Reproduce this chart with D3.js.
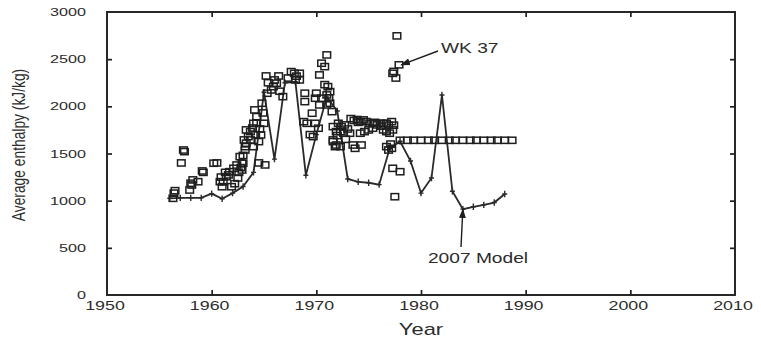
<!DOCTYPE html>
<html>
<head>
<meta charset="utf-8">
<script src="https://cdn.jsdelivr.net/npm/d3@7/dist/d3.min.js"></script>
<style>
  html, body { margin: 0; padding: 0; background: #fff; }
  svg { display: block; }
  text { font-family: "Liberation Sans", Arial, Helvetica, sans-serif; fill: #2c2c2c; }
</style>
</head>
<body>
<svg id="chart" width="761" height="344"></svg>
<script>
// Observed average enthalpy (kJ/kg), measured samples
const obsYears = [
  1956.3, 1956.4, 1956.5, 1957.1, 1957.3, 1957.4, 1957.9, 1958.0, 1958.1, 1958.2,
  1958.7, 1959.1, 1959.2, 1960.2, 1960.5, 1960.8, 1961.0, 1961.1, 1961.4, 1961.6,
  1961.7, 1961.9, 1962.1, 1962.2, 1962.4, 1962.6, 1962.7, 1962.9, 1962.9, 1963.0,
  1963.1, 1963.2, 1963.2, 1963.3, 1963.3, 1963.7, 1963.7, 1964.0, 1964.0, 1964.1,
  1964.3, 1964.3, 1964.5, 1964.5, 1964.7, 1964.8, 1965.0, 1965.1, 1965.2, 1965.3,
  1965.7, 1965.9, 1966.2, 1966.4, 1966.5, 1966.8, 1967.6, 1967.9, 1968.0, 1968.4,
  1968.4, 1968.8, 1968.9, 1968.9, 1969.1, 1969.4, 1969.6, 1969.7, 1969.9, 1969.9,
  1970.0, 1970.2, 1970.3, 1970.3, 1970.5, 1970.5, 1970.8, 1971.0, 1971.0, 1971.0,
  1971.1, 1971.3, 1971.3, 1971.5, 1971.6, 1971.6, 1971.6, 1971.8, 1971.9, 1971.9,
  1972.1, 1972.3, 1972.3, 1972.4, 1972.6, 1972.7, 1973.0, 1973.2, 1973.5, 1973.7,
  1973.9, 1974.2, 1974.2, 1974.5, 1974.6, 1974.8, 1975.0, 1975.1, 1975.4, 1975.4,
  1975.8, 1976.1, 1976.4, 1976.4, 1976.7, 1976.7, 1976.7, 1976.9, 1977.0, 1977.2,
  1977.2, 1977.3, 1977.3, 1977.5, 1978.0, 1960.9, 1961.3, 1962.5, 1962.8, 1963.0,
  1963.5, 1963.9, 1964.2, 1964.6, 1964.9, 1965.4, 1966.0, 1967.3, 1968.1, 1970.8,
  1971.2, 1972.0, 1972.8, 1973.3, 1973.6, 1974.0, 1974.3, 1975.6, 1976.2, 1976.9,
  1977.1, 1977.4
];
const obsValues = [
  1025, 1080, 1106, 1400, 1537, 1520, 1113, 1185, 1166, 1220,
  1201, 1315, 1300, 1397, 1400, 1201, 1148, 1200, 1254, 1273,
  1307, 1148, 1343, 1180, 1378, 1300, 1467, 1397, 1325, 1397,
  1644, 1573, 1537, 1609, 1750, 1644, 1732, 1820, 1573, 1962,
  1891, 1820, 1626, 1400, 1697, 2033, 1820, 1379, 2322, 2139,
  2174, 2209, 2245, 2322, 2160, 2103, 2368, 2350, 2280, 2350,
  2280, 1838, 2139, 2050, 1820, 1700, 1927, 1679, 1820, 2086,
  2139, 1768, 2333, 2015, 2457, 2086, 2421, 2545, 2121, 2015,
  2209, 2156, 2033, 1944, 1785, 1644, 1626, 1573, 1732, 1590,
  1820, 1732, 1573, 1785, 1715, 1803, 1760, 1715, 1590, 1555,
  1860, 1715, 1838, 1856, 1732, 1838, 1750, 1820, 1820, 1768,
  1803, 1820, 1820, 1750, 1820, 1732, 1573, 1537, 1715, 1838,
  1555, 1750, 1343, 1042, 1307, 1250, 1300, 1240, 1350, 1480,
  1680, 1770, 1700, 1760, 1930, 2250, 2280, 2300, 2320, 2230,
  2090, 1690, 1650, 1870, 1850, 1830, 1590, 1830, 1790, 1800,
  1600, 1800
];

// Well WK 37 samples
const wk37Years  = [1977.3, 1977.4, 1977.6, 1977.7, 1977.9];
const wk37Values = [2350, 2370, 2300, 2747, 2440];

// Constant enthalpy assumed after 1978
const flatYears = [
  1978.0, 1978.7, 1979.3, 1980.0, 1980.7, 1981.3, 1982.0, 1982.7, 1983.3,
  1984.0, 1984.7, 1985.3, 1986.0, 1986.7, 1987.3, 1988.0, 1988.7
];
const flatValues = [
  1640, 1640, 1640, 1640, 1640, 1640, 1640, 1640, 1640,
  1640, 1640, 1640, 1640, 1640, 1640, 1640, 1640
];

// 2007 model, annual
const modelYears = [
  1956, 1957, 1958, 1959, 1960, 1961, 1962, 1963, 1964, 1965, 1966,
  1967, 1968, 1969, 1970, 1971, 1972, 1973, 1974, 1975, 1976, 1977,
  1978, 1979, 1980, 1981, 1982, 1983, 1984, 1985, 1986, 1987, 1988
];
const modelValues = [
  1025, 1030, 1030, 1030, 1075, 1020, 1080, 1150, 1300, 2150, 1440,
  2250, 2260, 1270, 1700, 2100, 1950, 1230, 1200, 1190, 1170, 1550,
  1630, 1420, 1080, 1240, 2120, 1100, 910, 935, 955, 980, 1070
];

const xTicks = [1950, 1960, 1970, 1980, 1990, 2000, 2010];
const yTicks = [0, 500, 1000, 1500, 2000, 2500, 3000];

const svg = d3.select("#chart");
const SX = 1.37; // horizontal stretch of lettering
const plotL = 107, plotR = 735, plotT = 12, plotB = 295;

const x = d3.scaleLinear().domain([1950, 2010]).range([plotL, plotR]);
const y = d3.scaleLinear().domain([0, 3000]).range([plotB, plotT]);

const ink = "#1e1e1e";

// inward ticks on all four sides
svg.append("g").attr("transform", `translate(0,${plotB})`)
  .call(d3.axisBottom(x).tickValues(xTicks.slice(1, -1)).tickSize(-5).tickFormat(""));
svg.append("g").attr("transform", `translate(0,${plotT})`)
  .call(d3.axisTop(x).tickValues(xTicks.slice(1, -1)).tickSize(-5).tickFormat(""));
svg.append("g").attr("transform", `translate(${plotL},0)`)
  .call(d3.axisLeft(y).tickValues(yTicks.slice(1, -1)).tickSize(-5).tickFormat(""));
svg.append("g").attr("transform", `translate(${plotR},0)`)
  .call(d3.axisRight(y).tickValues(yTicks.slice(1, -1)).tickSize(-5).tickFormat(""));
svg.selectAll(".domain").remove();
svg.selectAll(".tick line").attr("stroke", ink).attr("stroke-width", 1.7);

svg.append("rect")
  .attr("x", plotL).attr("y", plotT)
  .attr("width", plotR - plotL).attr("height", plotB - plotT)
  .attr("fill", "none").attr("stroke", ink).attr("stroke-width", 1.9);

// tick labels
svg.append("g").selectAll("text").data(xTicks).join("text")
  .attr("transform", d => `translate(${x(d) - 2},${plotB + 15}) scale(${SX},1)`)
  .attr("text-anchor", "middle")
  .attr("font-size", 13)
  .text(d => d);

svg.append("g").selectAll("text").data(yTicks).join("text")
  .attr("transform", d => `translate(${plotL - 21},${y(d) + 4}) scale(${SX},1)`)
  .attr("text-anchor", "end")
  .attr("font-size", 11.8)
  .text(d => d);

// axis titles
svg.append("text")
  .attr("transform", `translate(${x(1980)},335) scale(${SX},1)`)
  .attr("text-anchor", "middle").attr("font-size", 16)
  .text("Year");

svg.append("text")
  .attr("transform", `translate(25,145) scale(${SX},1) rotate(-90)`)
  .attr("text-anchor", "middle").attr("font-size", 13.8)
  .text("Average enthalpy (kJ/kg)");

// model line with + markers
const line = d3.line().x((d, i) => x(modelYears[i])).y(d => y(d));
svg.append("path")
  .datum(modelValues)
  .attr("d", line)
  .attr("fill", "none").attr("stroke", "#2a2a2a").attr("stroke-width", 1.8);

svg.append("g").selectAll("path").data(modelValues).join("path")
  .attr("d", (d, i) => {
    const cx = x(modelYears[i]), cy = y(d);
    return `M${cx - 2.5},${cy}H${cx + 2.5}M${cx},${cy - 3.2}V${cy + 3.2}`;
  })
  .attr("stroke", "#2a2a2a").attr("stroke-width", 1.4);

// square markers
function squares(xs, vs) {
  svg.append("g").selectAll("rect").data(vs).join("rect")
    .attr("x", (d, i) => x(xs[i]) - 3.8)
    .attr("y", d => y(d) - 3.1)
    .attr("width", 7.6).attr("height", 6.2)
    .attr("fill", "none").attr("stroke", ink).attr("stroke-width", 1.5);
}
squares(obsYears, obsValues);
squares(wk37Years, wk37Values);
squares(flatYears, flatValues);

// annotations
const defs = svg.append("defs");
defs.append("marker")
  .attr("id", "head").attr("viewBox", "0 0 10 10")
  .attr("refX", 9).attr("refY", 5)
  .attr("markerWidth", 7).attr("markerHeight", 7)
  .attr("orient", "auto")
  .append("path").attr("d", "M0,1.5L10,5L0,8.5Z").attr("fill", ink);

svg.append("line")
  .attr("x1", 438).attr("y1", 51)
  .attr("x2", x(1978.1)).attr("y2", y(2440))
  .attr("stroke", ink).attr("stroke-width", 1.4)
  .attr("marker-end", "url(#head)");
svg.append("text")
  .attr("transform", `translate(441,53) scale(${SX},1)`)
  .attr("font-size", 14).text("WK 37");

svg.append("line")
  .attr("x1", 461).attr("y1", 247)
  .attr("x2", x(1984)).attr("y2", y(910))
  .attr("stroke", ink).attr("stroke-width", 1.4)
  .attr("marker-end", "url(#head)");
svg.append("text")
  .attr("transform", `translate(478,263) scale(${SX},1)`)
  .attr("text-anchor", "middle")
  .attr("font-size", 14).text("2007 Model");
</script>
</body>
</html>
